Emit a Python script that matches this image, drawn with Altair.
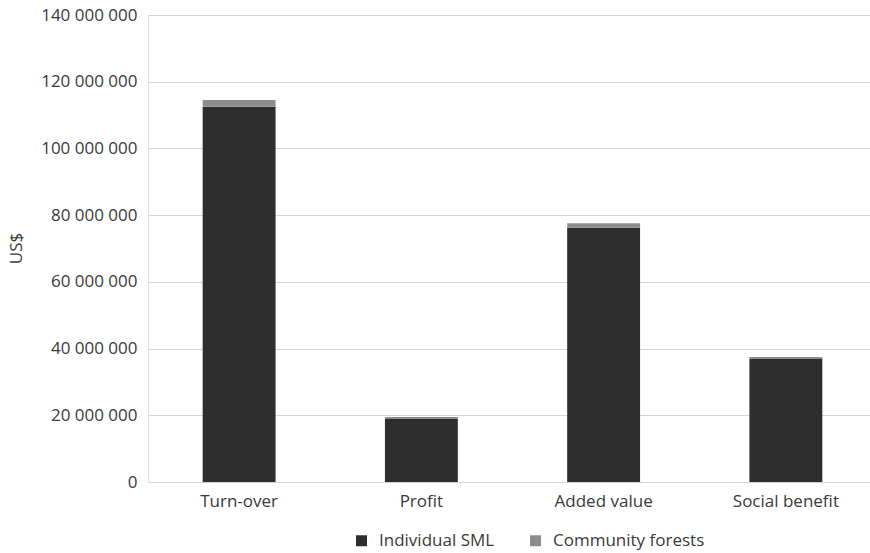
import altair as alt
import pandas as pd

categories = ["Turn-over", "Profit", "Added value", "Social benefit"]
series = ["Individual SML", "Community forests"]
individual_sml = [112_500_000, 18_900_000, 76_200_000, 36_900_000]
community_forests = [2_000_000, 600_000, 1_400_000, 600_000]
y_ticks = [0, 20_000_000, 40_000_000, 60_000_000, 80_000_000, 100_000_000, 120_000_000, 140_000_000]

rows = []
for i, c in enumerate(categories):
    rows.append({"cat": c, "series": series[0], "value": individual_sml[i], "ord": 0})
    rows.append({"cat": c, "series": series[1], "value": community_forests[i], "ord": 1})
df = pd.DataFrame(rows)

FONT = "Open Sans"
TXT = "#3a3a3a"

chart = alt.Chart(df).mark_bar().encode(
    x=alt.X("cat:N", sort=categories,
            scale=alt.Scale(range=[0, 729], paddingInner=0.6, paddingOuter=0.3),
            axis=alt.Axis(title=None, labelAngle=0, domain=False, ticks=False,
                          labelPadding=11, labelFontSize=17, labelFont=FONT,
                          labelColor=TXT)),
    y=alt.Y("value:Q", scale=alt.Scale(domain=[0, 140_000_000], nice=False),
            axis=alt.Axis(title="US$", values=y_ticks, domain=False, ticks=False,
                          labelExpr="replace(format(datum.value, ','), regexp(',', 'g'), ' ')",
                          labelPadding=11, labelFontSize=17, labelFont=FONT, labelColor=TXT,
                          gridColor="#d4d4d4", gridWidth=1,
                          titleFont=FONT, titleFontSize=17, titleFontWeight="normal",
                          titleColor=TXT, titleAngle=-90, titleX=-132, titleY=233,
                          titleAlign="center", titleBaseline="middle")),
    color=alt.Color("series:N", sort=series,
                    scale=alt.Scale(domain=series, range=["#2e2e2e", "#8c8c8c"]),
                    legend=alt.Legend(title=None, orient="none", direction="horizontal",
                                      legendX=205, legendY=517,
                                      symbolType="square", symbolSize=121,
                                      symbolStrokeWidth=0, labelFontSize=17,
                                      labelFont=FONT, labelColor=TXT, columnPadding=32,
                                      labelOffset=9)),
    order=alt.Order("ord:Q", sort="ascending"),
).properties(
    width=722, height=467,
    autosize=alt.AutoSizeParams(type="none"),
    padding={"left": 148, "top": 15, "right": 0, "bottom": 71},
).configure_view(stroke=None).configure(background="white")

chart.save("out.html", embed_options={"renderer": "svg", "actions": False})
